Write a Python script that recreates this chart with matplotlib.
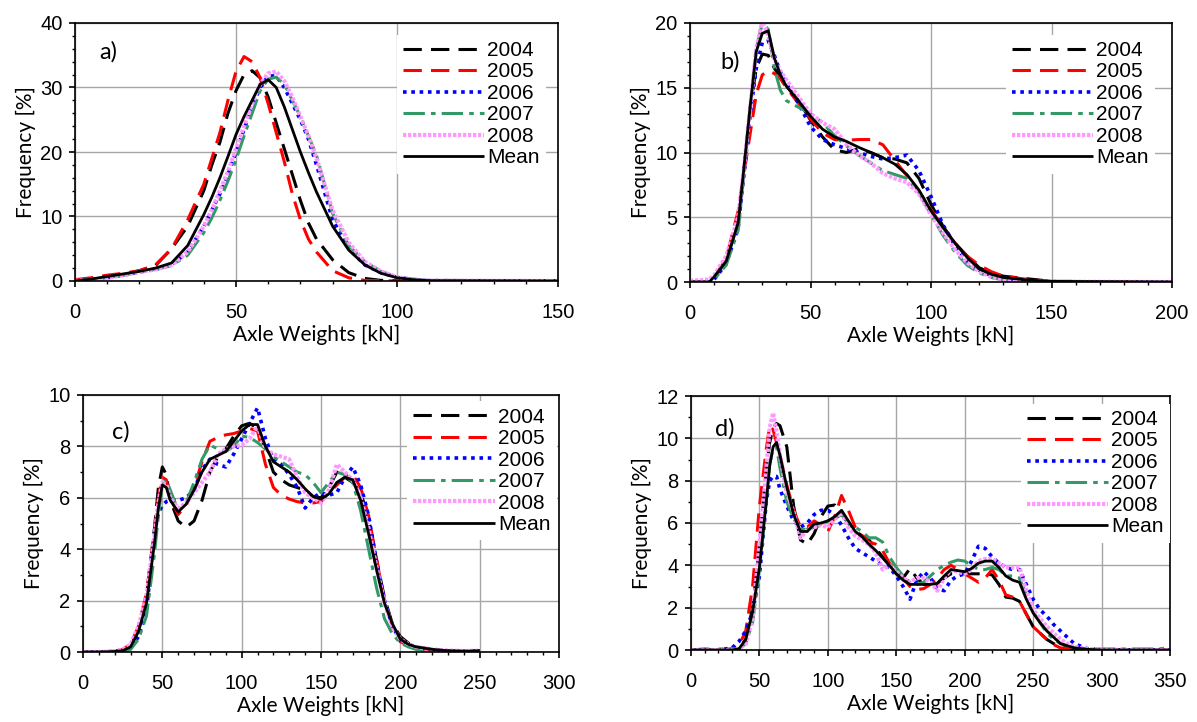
import matplotlib
matplotlib.use('Agg')
import matplotlib.pyplot as plt
from matplotlib.ticker import MultipleLocator

# -----------------
# DATA
# -----------------
years = ['2004', '2005', '2006', '2007', '2008', 'Mean']

# a) axle weights 0-150 kN
x_a = [0, 5, 10, 15, 20, 25, 30, 35, 40, 42.5, 45, 47.5, 50, 52.5, 55, 57.5, 60, 62.5,
       65, 67.5, 70, 72.5, 75, 80, 85, 90, 95, 100, 105, 110, 150]
a_2004 = [0, 0.3, 0.7, 1.0, 1.6, 2.4, 5.0, 8.5, 14.0, 18.0, 21.5, 26.0, 29.5, 32.0, 32.6, 31.5, 28.5, 24.5,
          20.5, 16.5, 12.5, 9.0, 6.5, 3.3, 1.3, 0.4, 0.1, 0.05, 0, 0, 0]
a_2005 = [0.2, 0.5, 0.9, 1.2, 1.6, 2.5, 5.0, 9.5, 15.0, 19.0, 23.0, 28.0, 32.5, 34.8, 34.0, 31.5, 27.5, 23.0,
          18.5, 13.5, 9.5, 6.5, 4.5, 1.6, 0.5, 0.1, 0.05, 0, 0, 0, 0]
a_2006 = [0, 0.2, 0.5, 0.9, 1.4, 1.8, 2.5, 4.5, 8.5, 11.0, 13.5, 16.5, 20.0, 23.5, 27.0, 30.0, 31.8, 31.8,
          30.0, 27.5, 25.0, 22.0, 18.0, 9.5, 5.0, 2.5, 1.3, 0.6, 0.2, 0.05, 0]
a_2007 = [0, 0.2, 0.5, 0.9, 1.4, 1.8, 2.4, 4.0, 7.5, 9.8, 12.5, 15.5, 18.8, 22.5, 26.0, 29.5, 31.3, 31.6,
          30.5, 28.0, 25.5, 22.5, 19.5, 10.5, 5.5, 3.0, 1.5, 0.6, 0.3, 0.1, 0]
a_2008 = [0, 0.2, 0.5, 0.9, 1.4, 1.8, 2.5, 4.5, 8.5, 11.0, 14.0, 17.0, 20.5, 24.0, 27.5, 30.5, 32.2, 32.5,
          31.0, 28.5, 25.5, 22.5, 19.0, 11.0, 6.0, 3.0, 1.5, 0.6, 0.2, 0.05, 0]
a_mean = [0, 0.3, 0.7, 1.1, 1.5, 2.0, 2.8, 5.5, 10.3, 13.0, 16.0, 19.3, 22.7, 25.5, 28.0, 30.5, 31.2, 30.0,
          27.0, 23.5, 20.0, 16.8, 13.8, 8.5, 4.8, 2.5, 1.2, 0.5, 0.2, 0.05, 0]

# b) axle weights 0-200 kN
x_b = [0, 5, 8, 10, 15, 20, 22.5, 25, 27.5, 30, 32.5, 35, 37.5, 40, 45, 50, 55, 60, 65, 70,
       75, 80, 85, 90, 95, 100, 105, 110, 115, 120, 125, 130, 140, 150, 200]
b_2004 = [0, 0, 0, 0.3, 1.6, 4.6, 9.0, 13.5, 16.5, 17.6, 17.5, 16.5, 15.8, 15.2, 14.0, 12.5, 11.2, 10.2, 10.0, 10.3,
          10.0, 9.6, 9.5, 9.2, 8.0, 6.0, 4.3, 3.0, 2.0, 1.1, 0.7, 0.45, 0.25, 0.05, 0]
b_2005 = [0, 0, 0, 0.3, 1.8, 5.5, 8.5, 11.5, 14.5, 16.0, 16.3, 16.1, 15.7, 15.0, 13.8, 12.6, 11.5, 11.0, 10.95, 11.0,
          11.0, 10.6, 9.4, 8.2, 7.0, 5.6, 4.2, 3.0, 2.0, 1.3, 0.8, 0.45, 0.2, 0.05, 0]
b_2006 = [0, 0, 0, 0.2, 1.4, 4.2, 8.5, 13.0, 16.5, 18.5, 18.6, 17.5, 16.2, 15.3, 13.8, 12.0, 11.0, 10.6, 10.3, 10.0,
          9.7, 9.5, 9.6, 9.8, 8.6, 6.6, 4.4, 2.8, 1.6, 0.9, 0.5, 0.3, 0.1, 0.02, 0]
b_2007 = [0, 0, 0, 0.2, 1.3, 4.0, 8.5, 13.5, 18.0, 20.0, 19.5, 16.5, 14.8, 14.0, 13.5, 13.0, 12.3, 11.3, 10.5, 9.8,
          9.2, 8.6, 8.3, 8.0, 6.9, 5.2, 3.6, 2.3, 1.3, 0.7, 0.35, 0.15, 0.05, 0, 0]
b_2008 = [0.1, 0.15, 0.2, 0.5, 2.0, 5.0, 9.0, 13.5, 18.0, 20.2, 19.0, 17.2, 16.3, 15.6, 14.3, 13.0, 12.3, 11.8, 10.6, 9.8,
          9.2, 8.4, 8.0, 7.7, 6.8, 5.2, 3.8, 2.5, 1.5, 0.8, 0.4, 0.2, 0.08, 0.02, 0]
b_mean = [0, 0, 0, 0.4, 1.6, 4.6, 9.0, 13.6, 17.8, 19.2, 19.4, 17.3, 16.0, 15.1, 14.0, 12.8, 11.8, 11.2, 10.85, 10.4,
          10.0, 9.6, 9.1, 8.3, 7.1, 5.5, 4.2, 3.0, 1.9, 1.0, 0.6, 0.35, 0.15, 0.05, 0]

# c) axle weights 0-250 kN
x_c = [0, 10, 20, 25, 30, 35, 40, 45, 47.5, 50, 52.5, 55, 60, 65, 70, 75, 80, 85, 90, 95, 100, 105,
       110, 115, 120, 125, 130, 135, 140, 145, 150, 155, 160, 165, 170, 175, 180, 185, 190, 195,
       200, 205, 210, 220, 230, 240, 250]
c_2004 = [0, 0, 0.02, 0.05, 0.2, 0.9, 2.2, 4.8, 6.4, 7.2, 6.9, 5.9, 5.1, 4.85, 5.1, 5.9, 7.0, 7.6, 7.9, 8.4, 8.8, 8.9,
          8.7, 7.9, 7.0, 6.7, 6.5, 6.4, 6.3, 6.05, 6.0, 6.4, 7.0, 6.8, 6.6, 6.2, 5.2, 3.6, 2.1, 1.1,
          0.6, 0.35, 0.2, 0.1, 0.05, 0.03, 0.05]
c_2005 = [0, 0, 0.03, 0.1, 0.3, 1.0, 2.3, 4.6, 6.0, 6.8, 6.7, 6.0, 5.35, 5.7, 6.4, 7.4, 8.2, 8.35, 8.45, 8.5, 8.6, 8.7,
          8.6, 7.3, 6.4, 6.1, 5.95, 5.85, 5.8, 5.8, 5.85, 6.2, 6.5, 6.8, 6.9, 6.4, 5.3, 3.6, 2.0, 1.0,
          0.4, 0.25, 0.15, 0.08, 0.04, 0.03, 0.04]
c_2006 = [0, 0, 0.02, 0.05, 0.15, 0.6, 1.6, 4.6, 5.4, 5.7, 5.85, 5.9, 5.9, 6.0, 6.3, 7.1, 7.5, 7.3, 7.2, 7.7, 8.3, 8.9,
          9.5, 8.3, 7.5, 7.3, 6.9, 6.4, 5.6, 6.0, 6.2, 6.1, 6.2, 6.8, 7.2, 6.5, 5.3, 3.5, 2.0, 1.0,
          0.45, 0.25, 0.15, 0.08, 0.04, 0.03, 0.04]
c_2007 = [0, 0, 0.01, 0.03, 0.1, 0.5, 1.4, 3.8, 5.3, 6.5, 6.7, 6.3, 5.5, 5.8, 6.6, 7.5, 8.05, 7.9, 7.8, 8.0, 8.4, 8.35,
          8.15, 7.9, 7.6, 7.4, 7.2, 7.0, 6.9, 6.6, 6.2, 6.6, 7.0, 6.9, 6.6, 5.5, 4.0, 2.5, 1.3, 0.7,
          0.35, 0.2, 0.1, 0.05, 0.03, 0.02, 0.03]
c_2008 = [0, 0, 0.03, 0.1, 0.3, 1.0, 2.2, 4.5, 5.8, 6.6, 6.5, 6.0, 5.6, 5.8, 6.2, 6.6, 7.0, 7.7, 7.9, 8.0, 8.05, 8.3,
          8.8, 7.9, 7.7, 7.6, 7.5, 6.8, 6.2, 6.0, 5.8, 6.3, 7.3, 7.0, 6.7, 6.0, 4.8, 3.3, 1.9, 1.0,
          0.5, 0.3, 0.2, 0.1, 0.06, 0.04, 0.05]
c_mean = [0, 0, 0.02, 0.05, 0.2, 0.8, 1.9, 4.2, 5.6, 6.5, 6.4, 5.9, 5.45, 5.75, 6.3, 7.0, 7.5, 7.65, 7.8, 8.2, 8.6, 8.85,
          8.85, 8.0, 7.4, 7.2, 7.0, 6.7, 6.35, 6.05, 5.95, 6.15, 6.6, 6.8, 6.7, 5.9, 4.6, 3.2, 1.9, 1.1,
          0.5, 0.3, 0.2, 0.1, 0.05, 0.03, 0.05]

# d) axle weights 0-350 kN
x_d = [0, 10, 20, 30, 35, 40, 45, 50, 55, 57.5, 60, 62.5, 65, 70, 75, 80, 85, 90, 95, 100, 105, 110,
       115, 120, 125, 130, 135, 140, 145, 150, 155, 160, 165, 170, 175, 180, 185, 190, 195, 200,
       205, 210, 215, 220, 225, 230, 235, 240, 245, 250, 255, 260, 265, 270, 275, 280, 290, 300,
       320, 340, 350]
d_2004 = [0, 0, 0, 0, 0.05, 0.5, 2.0, 5.0, 8.5, 9.8, 10.5, 10.7, 10.6, 9.6, 6.8, 5.2, 5.0, 5.5, 6.3, 6.8, 6.85, 6.4,
          6.0, 5.6, 5.4, 5.2, 4.8, 4.4, 4.0, 3.6, 3.4, 3.85, 3.4, 3.1, 3.1, 3.15, 3.4, 3.6, 3.6, 3.6,
          3.6, 3.6, 3.6, 3.55, 3.1, 2.5, 2.45, 2.3, 1.7, 1.1, 0.8, 0.5, 0.3, 0.15, 0.1, 0.05, 0.02, 0,
          0, 0, 0]
d_2005 = [0, 0.05, 0.02, 0.05, 0.2, 0.9, 3.0, 6.8, 9.5, 10.6, 10.4, 9.8, 9.2, 7.8, 6.6, 5.8, 5.8, 6.1, 5.9, 5.6, 6.3, 7.3,
          6.6, 5.8, 5.4, 5.1, 5.0, 4.7, 4.1, 3.7, 3.4, 3.0, 2.85, 2.9, 3.1, 3.4, 3.8, 4.0, 3.8, 3.6,
          3.4, 3.2, 3.4, 3.8, 3.3, 2.6, 2.5, 2.3, 1.7, 1.1, 0.8, 0.5, 0.25, 0.1, 0.08, 0.05, 0.02, 0,
          0, 0, 0]
d_2006 = [0, 0, 0, 0.1, 0.4, 0.9, 1.8, 3.5, 7.0, 8.0, 8.2, 8.2, 7.6, 6.8, 6.1, 5.8, 6.0, 6.4, 6.6, 6.6, 6.4, 5.9,
          5.3, 4.8, 4.6, 4.4, 4.2, 4.0, 3.9, 3.5, 3.0, 2.4, 3.3, 3.7, 3.4, 2.9, 2.8, 3.3, 3.5, 3.6,
          4.2, 4.9, 4.8, 4.4, 4.1, 3.9, 3.8, 3.8, 3.1, 2.4, 1.9, 1.6, 1.2, 0.9, 0.6, 0.3, 0.05, 0.02,
          0, 0, 0]
d_2007 = [0, 0, 0.05, 0.05, 0.05, 0.3, 1.3, 3.8, 7.0, 8.8, 9.5, 9.6, 8.6, 7.0, 6.2, 5.7, 5.7, 5.8, 5.9, 6.1, 6.2, 6.4,
          6.0, 5.8, 5.6, 5.3, 5.3, 5.1, 4.4, 3.9, 3.5, 3.2, 3.1, 3.2, 3.5, 3.8, 4.0, 4.15, 4.25, 4.2,
          4.0, 3.8, 3.8, 3.9, 3.8, 3.5, 3.5, 3.4, 2.6, 1.8, 1.3, 0.8, 0.5, 0.3, 0.2, 0.1, 0.05, 0.05,
          0.05, 0.05, 0.1]
d_2008 = [0, 0, 0, 0, 0.05, 0.3, 1.5, 5.0, 8.5, 10.5, 11.2, 10.3, 9.2, 7.4, 6.5, 5.3, 5.7, 5.8, 5.9, 5.8, 6.2, 6.5,
          5.8, 5.4, 5.2, 5.0, 4.6, 3.8, 4.0, 3.7, 3.4, 3.2, 3.4, 3.4, 3.2, 2.8, 3.4, 3.8, 3.7, 3.6,
          3.8, 4.2, 4.3, 4.3, 4.1, 3.9, 3.9, 3.9, 2.8, 1.9, 1.5, 1.1, 0.8, 0.5, 0.3, 0.15, 0.05, 0.02,
          0, 0, 0]
d_mean = [0, 0, 0, 0, 0.05, 0.5, 1.8, 3.9, 7.0, 8.7, 9.6, 9.8, 9.2, 7.7, 6.4, 5.6, 5.6, 5.95, 6.0, 6.1, 6.3, 6.6,
          6.1, 5.6, 5.35, 5.0, 4.7, 4.35, 4.0, 3.6, 3.3, 3.1, 3.1, 3.1, 3.1, 3.15, 3.5, 3.8, 3.75, 3.7,
          3.85, 4.1, 4.2, 4.2, 3.9, 3.5, 3.3, 3.2, 2.4, 1.75, 1.3, 0.9, 0.6, 0.3, 0.2, 0.1, 0.03, 0,
          0, 0, 0]

# -----------------
# STYLE
# -----------------
TICK_FONT = 'Liberation Sans'
LABEL_FONT = 'Lato'

line_styles = {
    '2004': dict(color='black', lw=2.2, ls=(0, (6, 3))),
    '2005': dict(color='#ff0000', lw=2.2, ls=(0, (6, 3))),
    '2006': dict(color='#0000ff', lw=2.6, ls=(0, (1, 1.3))),
    '2007': dict(color='#339966', lw=2.2, ls=(0, (7, 2, 1.5, 2))),
    '2008': dict(color='#ff99ff', lw=3.0, ls=(0, (0.8, 0.4))),
    'Mean': dict(color='black', lw=2.0, ls='-'),
}

W, H = 1197, 722


def px_axes(fig, left, top, right, bottom):
    return fig.add_axes([left / W, 1 - bottom / H, (right - left) / W, (bottom - top) / H])


def draw_panel(ax, x, series, xmax, xmajor, ymax, ymajor, yminor, tag, tag_xy, leg_xy):
    for name, y in zip(years, series):
        st = line_styles[name]
        ax.plot(x, y, color=st['color'], lw=st['lw'], linestyle=st['ls'], label=name,
                solid_capstyle='butt', dash_capstyle='butt')
    ax.set_xlim(0, xmax)
    ax.set_ylim(0, ymax)
    ax.xaxis.set_major_locator(MultipleLocator(xmajor))
    ax.xaxis.set_minor_locator(MultipleLocator(10))
    ax.yaxis.set_major_locator(MultipleLocator(ymajor))
    ax.yaxis.set_minor_locator(MultipleLocator(yminor))
    ax.grid(True, which='major', color='#a6a6a6', lw=1.0)
    ax.set_axisbelow(True)
    ax.tick_params(which='major', direction='out', length=4, width=1.2, labelsize=14.5)
    ax.tick_params(which='minor', direction='out', length=2.5, width=1.0)
    ax.tick_params(axis='x', which='major', pad=12)
    ax.tick_params(axis='y', which='major', pad=5)
    for lab in ax.get_xticklabels() + ax.get_yticklabels():
        lab.set_fontfamily(TICK_FONT)
    for sp in ax.spines.values():
        sp.set_linewidth(1.2)
    ax.set_xlabel('Axle Weights [kN]', fontsize=15, fontfamily=LABEL_FONT, labelpad=2)
    ax.set_ylabel('Frequency [%]', fontsize=15, fontfamily=LABEL_FONT, labelpad=3)
    ax.text(tag_xy[0], tag_xy[1], tag, transform=ax.transAxes, fontsize=17,
            fontfamily=LABEL_FONT, va='center', ha='left')
    leg = ax.legend(loc='upper right', bbox_to_anchor=leg_xy, frameon=True,
                    fancybox=False, framealpha=1, facecolor='white', edgecolor='none',
                    handlelength=3.9, handletextpad=0.15, labelspacing=0.12,
                    borderpad=0.3, borderaxespad=0.0,
                    prop={'family': TICK_FONT, 'size': 15})
    leg.set_zorder(5)


fig = plt.figure(figsize=(W / 100, H / 100), dpi=100)

ax_a = px_axes(fig, 75, 23, 558, 281)
draw_panel(ax_a, x_a, [a_2004, a_2005, a_2006, a_2007, a_2008, a_mean],
           150, 50, 40, 10, 2, 'a)', (0.05, 0.89), (0.975, 0.955))

ax_b = px_axes(fig, 690, 23, 1172, 282)
draw_panel(ax_b, x_b, [b_2004, b_2005, b_2006, b_2007, b_2008, b_mean],
           200, 50, 20, 5, 1, 'b)', (0.064, 0.85), (0.965, 0.955))

ax_c = px_axes(fig, 83, 395, 559, 652)
draw_panel(ax_c, x_c, [c_2004, c_2005, c_2006, c_2007, c_2008, c_mean],
           300, 50, 10, 2, 1, 'c)', (0.06, 0.855), (0.995, 0.975))

ax_d = px_axes(fig, 691, 396, 1170, 650)
draw_panel(ax_d, x_d, [d_2004, d_2005, d_2006, d_2007, d_2008, d_mean],
           350, 50, 12, 2, 1, 'd)', (0.05, 0.87), (1.0, 0.97))

fig.savefig('out.png', dpi=100)
